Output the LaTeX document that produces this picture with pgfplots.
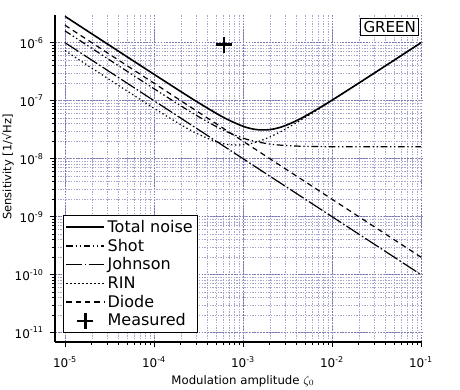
\documentclass[border=0pt]{standalone}
\usepackage{fontspec}
\setmainfont{DejaVu Sans}
\usepackage{pgfplots}
\usepackage{pgfplotstable}
\pgfplotsset{compat=1.18}

\definecolor{gridmaj}{RGB}{120,120,175}
\definecolor{gridmin}{RGB}{165,165,205}

% t, total, shot, johnson, rin, diode
\pgfplotstableread{
t       total     shot      johnson   rin       diode
1e-5    2.845e-6  1.600e-6  1.0e-6    7.301e-7  2.0e-6
2e-5    1.422e-6  8.000e-7  5.0e-7    3.650e-7  1.0e-6
5e-5    5.691e-7  3.200e-7  2.0e-7    1.465e-7  4.0e-7
1e-4    2.852e-7  1.608e-7  1.0e-7    7.400e-8  2.0e-7
2e-4    1.437e-7  8.158e-8  5.0e-8    3.850e-8  1.0e-7
3e-4    9.697e-8  5.568e-8  3.333e-8  2.733e-8  6.667e-8
5e-4    6.053e-8  3.578e-8  2.0e-8    1.960e-8  4.0e-8
7e-4    4.585e-8  2.790e-8  1.429e-8  1.743e-8  2.857e-8
1e-3    3.621e-8  2.263e-8  1.0e-8    1.730e-8  2.0e-8
1.2e-3  3.329e-8  2.083e-8  8.333e-9  1.808e-8  1.667e-8
1.5e-3  3.141e-8  1.923e-8  6.667e-9  1.987e-8  1.333e-8
2e-3    3.169e-8  1.789e-8  5.0e-9    2.365e-8  1.0e-8
2.5e-3  3.401e-8  1.723e-8  4.0e-9    2.792e-8  8.0e-9
3e-3    3.731e-8  1.687e-8  3.333e-9  3.243e-8  6.667e-9
4e-3    4.531e-8  1.649e-8  2.5e-9    4.183e-8  5.0e-9
5e-3    5.417e-8  1.632e-8  2.0e-9    5.146e-8  4.0e-9
7e-3    7.293e-8  1.616e-8  1.429e-9  7.104e-8  2.857e-9
1e-2    1.020e-7  1.608e-8  1.0e-9    1.007e-7  2.0e-9
2e-2    2.010e-7  1.602e-8  5.0e-10   2.004e-7  1.0e-9
5e-2    5.003e-7  1.600e-8  2.0e-10   5.000e-7  4.0e-10
1e-1    1.000e-6  1.600e-8  1.0e-10   1.000e-6  2.0e-10
}\noise

\pgfplotsset{
    longline/.style={legend image code/.code={\draw[##1] (0cm,0cm) -- (1.0cm,0cm);}},
    pointonly/.style={legend image code/.code={\draw[##1] plot coordinates {(0.5cm,0cm)};}},
}

\begin{document}
\begin{tikzpicture}
\begin{axis}[
    name=main,
    scale only axis,
    width=275.25pt, height=245.25pt,
    xmode=log, ymode=log,
    xmin=7.72e-6, xmax=0.1025,
    ymin=6.9e-12, ymax=3.0e-6,
    axis x line*=bottom, axis y line*=left,
    axis line style={-, line width=0.8pt},
    tick align=outside,
    major tick length=4pt, minor tick length=2pt,
    tick style={black, line width=0.5pt},
    xtick={1e-5,1e-4,1e-3,1e-2,1e-1},
    xticklabels={10\textsuperscript{-5},10\textsuperscript{-4},10\textsuperscript{-3},10\textsuperscript{-2},10\textsuperscript{-1}},
    ytick={1e-11,1e-10,1e-9,1e-8,1e-7,1e-6},
    yticklabels={10\textsuperscript{-11},10\textsuperscript{-10},10\textsuperscript{-9},10\textsuperscript{-8},10\textsuperscript{-7},10\textsuperscript{-6}},
    tick label style={font=\fontsize{9}{10}\selectfont},
    xticklabel style={yshift=-3.5pt},
    yticklabel style={xshift=-1pt},
    grid=both,
    major grid style={gridmaj, dash pattern=on 1.2pt off 1pt, line width=0.45pt},
    minor grid style={gridmin, dash pattern=on 1pt off 1pt, line width=0.4pt},
    xlabel={Modulation amplitude $\zeta_0$},
    ylabel={Sensitivity [1/√Hz]},
    every axis x label/.style={at={(axis description cs:0.512,-0.12)}, anchor=center,
        font=\fontsize{8.8}{10}\selectfont},
    every axis y label/.style={at={(axis description cs:-0.128,0.535)}, rotate=90, anchor=center,
        font=\fontsize{8.6}{10}\selectfont},
    legend style={at={(0.022,0.0275)}, anchor=south west, draw=black, fill=white,
        font=\fontsize{12}{13}\selectfont, inner sep=1.5pt, row sep=-0.5pt,
        line width=0.6pt},
    legend cell align=left,
]
\addplot[longline, black, line width=1.2pt, smooth] table[x=t, y=total] {\noise};
\addlegendentry{Total noise}
\addplot[longline, black, line width=0.9pt, smooth, dash pattern=on 5pt off 2pt on 1pt off 2pt on 1pt off 2pt] table[x=t, y=shot] {\noise};
\addlegendentry{Shot}
\addplot[longline, black, line width=0.9pt, dash pattern=on 12pt off 1.8pt on 1.2pt off 1.8pt] table[x=t, y=johnson] {\noise};
\addlegendentry{Johnson}
\addplot[longline, black, line width=0.9pt, smooth, dash pattern=on 1pt off 2pt] table[x=t, y=rin] {\noise};
\addlegendentry{RIN}
\addplot[longline, black, line width=0.9pt, dash pattern=on 4pt off 3pt] table[x=t, y=diode] {\noise};
\addlegendentry{Diode}
\addplot[pointonly, black, only marks, mark=+, mark size=6pt, line width=2pt]
    coordinates {(6.1e-4,9.2e-7)};
\addlegendentry{Measured}
\node[draw=black, fill=white, line width=0.6pt, anchor=north east, inner sep=2pt,
    font=\fontsize{11.3}{12}\selectfont] at (rel axis cs:0.992,0.991) {GREEN};
\end{axis}
\pgfresetboundingbox
\path ([shift={(-41.25pt,-35.25pt)}]main.south west) rectangle ([shift={(28.5pt,11.25pt)}]main.north east);
\end{tikzpicture}
\end{document}
